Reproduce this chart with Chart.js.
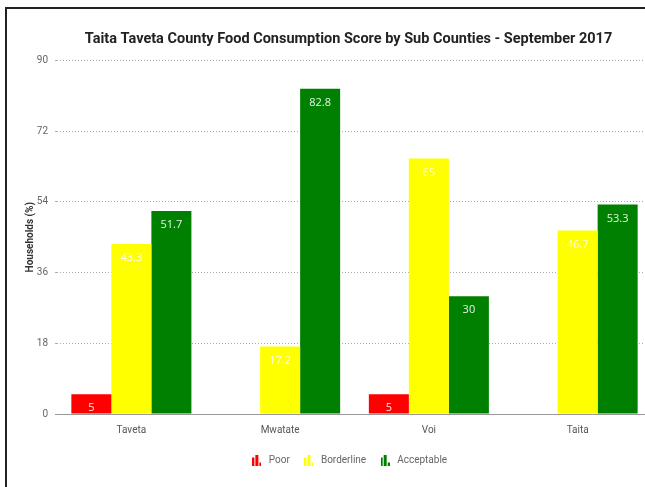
<!DOCTYPE html>
<html lang="en">
<head>
  <meta charset="UTF-8">
  <title>Food Consumption Score</title>
  <script src="https://cdn.jsdelivr.net/npm/chart.js"></script>
  <style>
    html, body {
      margin: 0;
      padding: 0;
      background: #fff;
      overflow: hidden;
    }
    .frame {
      position: absolute;
      left: 5px;
      top: 7px;
      width: 700px;
      height: 600px;
      border-left: 2px solid #222;
      border-top: 2px solid #222;
    }
    #fcsChart {
      position: absolute;
      left: 0;
      top: 0;
    }
  </style>
</head>
<body>
  <div class="frame"></div>
  <canvas id="fcsChart" width="677" height="487"></canvas>

  <script>
    const subCounties = ['Taveta', 'Mwatate', 'Voi', 'Taita'];
    const poor = [5, null, 5, null];
    const borderline = [43.3, 17.2, 65, 46.7];
    const acceptable = [51.7, 82.8, 30, 53.3];
    const yTicks = [0, 18, 36, 54, 72, 90];

    const RED = '#ff0000';
    const YELLOW = '#ffff00';
    const GREEN = '#008000';

    // little bar-chart glyph used as the legend marker
    function barIcon(color) {
      const c = document.createElement('canvas');
      c.width = 9;
      c.height = 11;
      const g = c.getContext('2d');
      g.fillStyle = color;
      g.fillRect(0, 3, 2, 8);
      g.fillRect(3, 0, 3, 11);
      g.fillRect(7, 8, 2, 3);
      return c;
    }

    // white value text near the top of each bar
    const barValues = {
      id: 'barValues',
      afterDatasetsDraw(chart) {
        const ctx = chart.ctx;
        ctx.save();
        ctx.font = '11px "Open Sans"';
        ctx.fillStyle = 'rgba(255,255,255,0.9)';
        ctx.textAlign = 'center';
        ctx.textBaseline = 'middle';
        chart.data.datasets.forEach((ds, i) => {
          chart.getDatasetMeta(i).data.forEach((bar, j) => {
            const v = ds.data[j];
            if (v === null || v === undefined) return;
            ctx.fillText(String(v), bar.x, bar.y + 14);
          });
        });
        ctx.restore();
      }
    };

    Chart.defaults.font.family = 'Roboto';

    new Chart(document.getElementById('fcsChart'), {
      type: 'bar',
      data: {
        labels: subCounties,
        datasets: [
          { label: 'Poor', data: poor, backgroundColor: RED, pointStyle: barIcon(RED) },
          { label: 'Borderline', data: borderline, backgroundColor: YELLOW, pointStyle: barIcon(YELLOW) },
          { label: 'Acceptable', data: acceptable, backgroundColor: GREEN, pointStyle: barIcon(GREEN) }
        ]
      },
      options: {
        responsive: false,
        animation: false,
        categoryPercentage: 0.807,
        barPercentage: 1,
        layout: { padding: { left: 20, right: 0, top: 0, bottom: 12 } },
        plugins: {
          title: {
            display: true,
            text: 'Taita Taveta County Food Consumption Score by Sub Counties - September 2017',
            color: '#222',
            font: { size: 14.5, weight: 'bold' },
            padding: { top: 31, bottom: 12 }
          },
          legend: {
            position: 'bottom',
            labels: {
              usePointStyle: true,
              pointStyleWidth: 14,
              color: '#666',
              font: { size: 10 },
              padding: 12
            }
          },
          tooltip: { enabled: false }
        },
        scales: {
          x: {
            grid: { display: false },
            border: { display: true, color: '#999', width: 1 },
            ticks: { color: '#555', font: { size: 10 }, padding: 2 },
            afterFit(scale) { scale.height = 29; }
          },
          y: {
            min: 0,
            max: 90,
            afterBuildTicks(scale) {
              scale.ticks = yTicks.map(v => ({ value: v }));
            },
            ticks: { color: '#666', font: { size: 10 }, padding: 7 },
            grid: {
              color: ctx => ctx.tick && ctx.tick.value === 0 ? '#999' : '#aaa',
              tickLength: 2
            },
            border: {
              display: false,
              dash: ctx => ctx.tick && ctx.tick.value === 0 ? [] : [1, 2]
            },
            title: {
              display: true,
              text: 'Households (%)',
              color: '#333',
              font: { size: 10, weight: 'bold' }
            },
            afterFit(scale) { scale.width = 37; }
          },
          // empty spacer on the right so the title and legend sit over the plot
          spacer: {
            axis: 'y',
            position: 'right',
            display: true,
            ticks: { display: false },
            grid: { display: false },
            border: { display: false },
            afterFit(scale) { scale.width = 25; }
          }
        }
      },
      plugins: [barValues]
    });
  </script>
</body>
</html>
